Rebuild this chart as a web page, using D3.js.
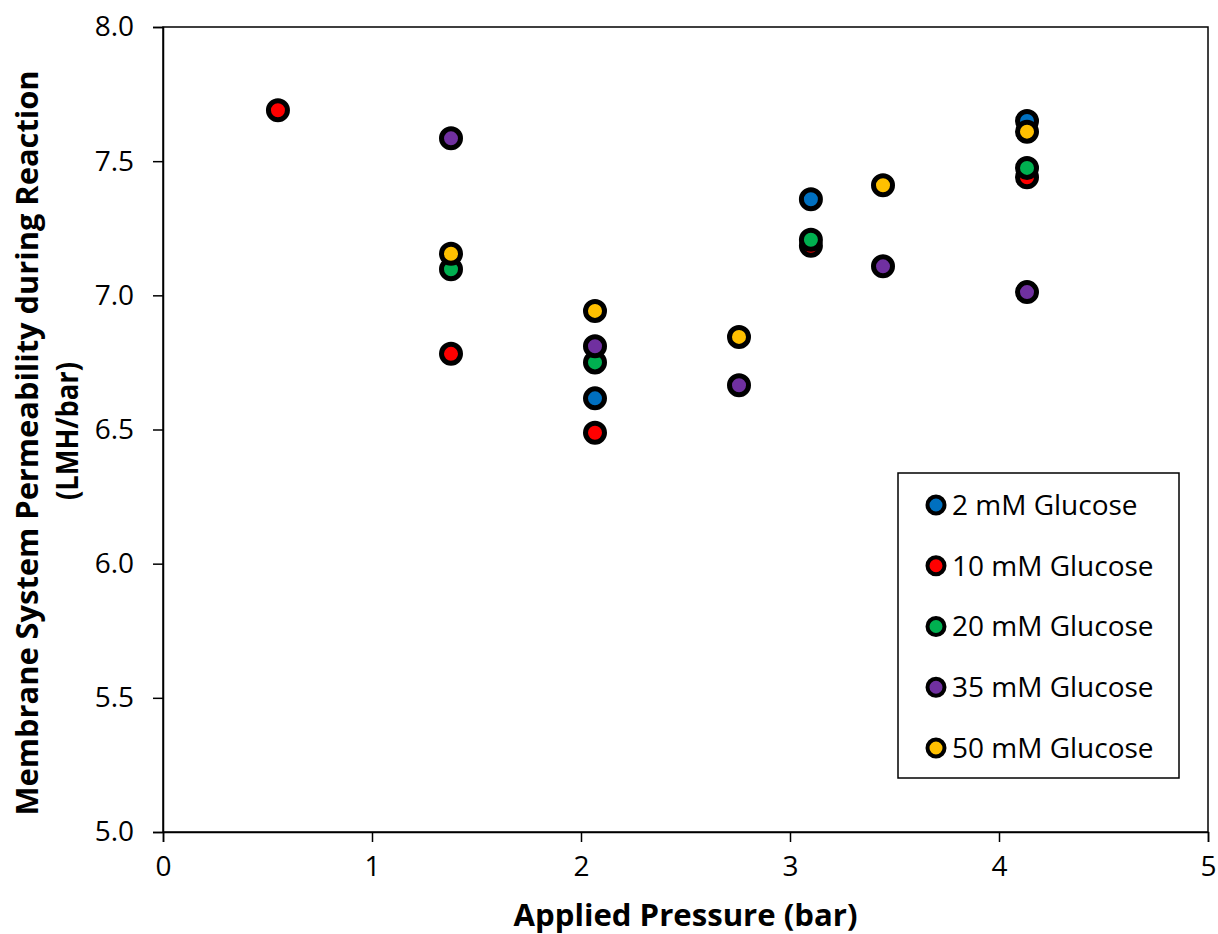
<!DOCTYPE html>
<html>
<head>
<meta charset="utf-8">
<script src="https://cdn.jsdelivr.net/npm/d3@7/dist/d3.min.js"></script>
<style>
  body { margin: 0; background: #fff; }
  text { font-family: "Open Sans", "Noto Sans", sans-serif; fill: #000; }
</style>
</head>
<body>
<div id="chart"></div>
<script>
// series names and colours
var seriesNames = ["2 mM Glucose", "10 mM Glucose", "20 mM Glucose", "35 mM Glucose", "50 mM Glucose"];
var seriesColors = ["#0070C0", "#FF0000", "#00B050", "#7030A0", "#FFC000"];

// values, [pressure, permeability]
var glucose2  = [[2.067, 6.616], [3.10, 7.358], [4.134, 7.650]];
var glucose10 = [[0.55, 7.690], [1.378, 6.782], [2.067, 6.488], [3.10, 7.185], [4.134, 7.440]];
var glucose20 = [[1.378, 7.097], [2.067, 6.750], [3.10, 7.207], [4.134, 7.475]];
var glucose35 = [[1.378, 7.585], [2.067, 6.810], [2.756, 6.665], [3.445, 7.108], [4.134, 7.012]];
var glucose50 = [[1.378, 7.155], [2.067, 6.942], [2.756, 6.845], [3.445, 7.410], [4.134, 7.610]];

var xTicks = [0, 1, 2, 3, 4, 5];
var yTicks = [5.0, 5.5, 6.0, 6.5, 7.0, 7.5, 8.0];

var allSeries = [glucose2, glucose10, glucose20, glucose35, glucose50];

var width = 1218, height = 934;
var margin = {top: 27, right: 10, bottom: 102, left: 163};

var svg = d3.select("#chart").append("svg")
    .attr("width", width)
    .attr("height", height);

var x = d3.scaleLinear().domain([0, 5]).range([margin.left, width - margin.right]);
var y = d3.scaleLinear().domain([5, 8]).range([height - margin.bottom, margin.top]);

// plot frame
svg.append("rect")
    .attr("x", x(0)).attr("y", y(8))
    .attr("width", x(5) - x(0)).attr("height", y(5) - y(8))
    .attr("fill", "none").attr("stroke", "#000").attr("stroke-width", 1.5);

// axes
var xAxis = svg.append("g")
    .attr("transform", "translate(0," + y(5) + ")")
    .call(d3.axisBottom(x).tickValues(xTicks).tickSize(10).tickPadding(14).tickFormat(d3.format("d")));
var yAxis = svg.append("g")
    .attr("transform", "translate(" + x(0) + ",0)")
    .call(d3.axisLeft(y).tickValues(yTicks).tickSize(10).tickPadding(19).tickFormat(d3.format(".1f")));

[xAxis, yAxis].forEach(function(g){
    g.select(".domain").attr("stroke", "#000").attr("stroke-width", 1.5);
    g.selectAll(".tick line").attr("stroke", "#000").attr("stroke-width", 1.5);
    g.selectAll(".tick text").style("font-size", "28px").style("font-family", "'Open Sans', sans-serif");
});

// points
allSeries.forEach(function(data, i){
    svg.append("g").selectAll("circle")
        .data(data)
        .enter().append("circle")
        .attr("cx", function(d){ return x(d[0]); })
        .attr("cy", function(d){ return y(d[1]); })
        .attr("r", 9.5)
        .attr("fill", seriesColors[i])
        .attr("stroke", "#000")
        .attr("stroke-width", 5);
});

// axis titles
svg.append("text")
    .attr("x", (x(0) + x(5)) / 2)
    .attr("y", 926)
    .attr("text-anchor", "middle")
    .style("font-size", "31px")
    .style("font-weight", "bold")
    .attr("textLength", 344)
    .attr("lengthAdjust", "spacingAndGlyphs")
    .text("Applied Pressure (bar)");

svg.append("text")
    .attr("transform", "translate(38,443) rotate(-90)")
    .attr("text-anchor", "middle")
    .style("font-size", "31px")
    .style("font-weight", "bold")
    .attr("textLength", 745)
    .attr("lengthAdjust", "spacingAndGlyphs")
    .text("Membrane System Permeability during Reaction");
svg.append("text")
    .attr("transform", "translate(78,431) rotate(-90)")
    .attr("text-anchor", "middle")
    .style("font-size", "31px")
    .style("font-weight", "bold")
    .attr("textLength", 138)
    .attr("lengthAdjust", "spacingAndGlyphs")
    .text("(LMH/bar)");

// legend
var legend = svg.append("g");
legend.append("rect")
    .attr("x", 898).attr("y", 473)
    .attr("width", 281).attr("height", 305)
    .attr("fill", "#fff").attr("stroke", "#000").attr("stroke-width", 1.5);

var rowY = d3.scalePoint().domain(seriesNames).range([505, 748]);
var item = legend.selectAll(".item")
    .data(seriesNames)
    .enter().append("g")
    .attr("transform", function(d){ return "translate(936," + rowY(d) + ")"; });
item.append("circle")
    .attr("r", 8.5)
    .attr("fill", function(d, i){ return seriesColors[i]; })
    .attr("stroke", "#000")
    .attr("stroke-width", 4);
item.append("text")
    .attr("x", 16)
    .attr("dy", "0.35em")
    .style("font-size", "28px")
    .text(function(d){ return d; });
</script>
</body>
</html>
